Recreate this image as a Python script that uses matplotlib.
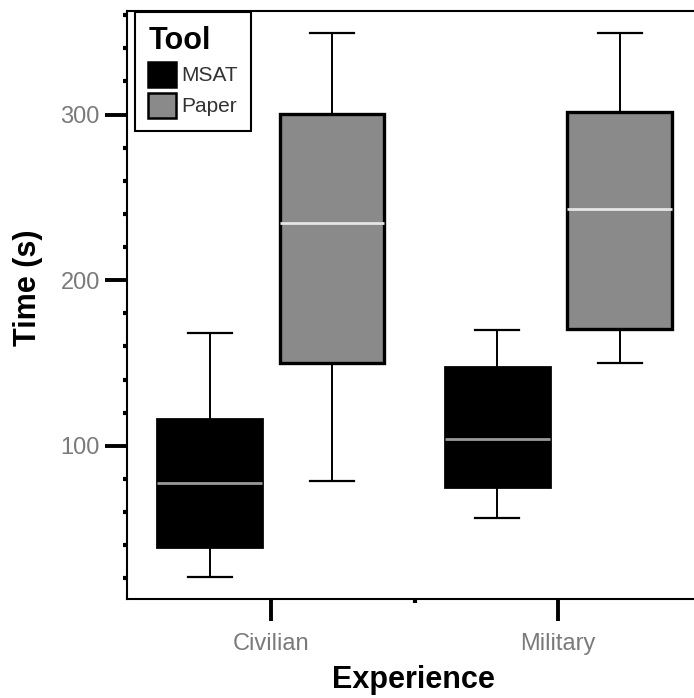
import matplotlib
matplotlib.use("Agg")
import matplotlib.pyplot as plt
from matplotlib.patches import Patch

plt.rcParams['font.family'] = ['Liberation Sans', 'DejaVu Sans']

# box plot summary values (seconds)
categories = ['Civilian', 'Military']
tools = ['MSAT', 'Paper']
whislo = {'MSAT': [20.5, 56.5], 'Paper': [79, 149.7]}
q1 = {'MSAT': [38.7, 75], 'Paper': [149.7, 170.6]}
med = {'MSAT': [77.3, 104], 'Paper': [234.4, 242.7]}
q3 = {'MSAT': [116, 147.7], 'Paper': [300.4, 301.6]}
whishi = {'MSAT': [168, 170.2], 'Paper': [349, 349]}

yticks = [100, 200, 300]

face = {'MSAT': 'black', 'Paper': '#8a8a8a'}
median_col = {'MSAT': '#9a9a9a', 'Paper': '#e6e6e6'}
edge_w = {'MSAT': 2.0, 'Paper': 2.4}
offset = {'MSAT': -0.213, 'Paper': 0.213}

fig = plt.figure(figsize=(6.94, 6.98), dpi=100)
ax = fig.add_axes([127/694, 1 - 599/698, 567/694, 588/698])

for tool in tools:
    stats = []
    for i in range(len(categories)):
        stats.append(dict(whislo=whislo[tool][i], q1=q1[tool][i], med=med[tool][i],
                          q3=q3[tool][i], whishi=whishi[tool][i], fliers=[]))
    pos = [i + offset[tool] for i in range(len(categories))]
    ax.bxp(stats, positions=pos, widths=0.365, patch_artist=True, showfliers=False,
           boxprops=dict(facecolor=face[tool], edgecolor='black', linewidth=edge_w[tool]),
           medianprops=dict(color=median_col[tool], linewidth=2),
           whiskerprops=dict(color='black', linewidth=1.4),
           capprops=dict(color='black', linewidth=1.6),
           capwidths=0.153, manage_ticks=False)

ax.set_xlim(-0.5, 1.472)
ax.set_ylim(7.5, 362.5)

ax.set_xticks(range(len(categories)))
ax.set_xticklabels(categories)
ax.set_xticks([0.5], minor=True)
ax.set_yticks(yticks)
ax.set_yticks([y for y in range(20, 361, 20) if y not in yticks], minor=True)

ax.tick_params(which='major', length=15.5, width=2.8, color='black',
               labelsize=17, labelcolor='#7a7a7a', pad=4)
ax.tick_params(axis='x', which='major', pad=9)
ax.tick_params(which='minor', length=3, width=3, color='black')

for s in ['left', 'bottom', 'top']:
    ax.spines[s].set_linewidth(1.5)
ax.spines['right'].set_visible(False)

ax.set_ylabel('Time (s)', fontsize=22, fontweight='bold')
ax.yaxis.set_label_coords(-0.148, 0.529)
ax.set_xlabel('Experience', fontsize=22, fontweight='bold')
ax.xaxis.set_label_coords(0.506, -0.113)

handles = [Patch(facecolor=face[t], edgecolor='black', linewidth=1.8, label=t) for t in tools]
leg = ax.legend(handles=handles, title='Tool', loc='upper left',
                bbox_to_anchor=(0.014, 0.998), borderaxespad=0, fancybox=False,
                edgecolor='black', framealpha=1, fontsize=15,
                title_fontproperties=dict(weight='bold', size=22),
                handlelength=1.3, handleheight=1.45, handletextpad=0.25,
                labelspacing=0.3, borderpad=0.65)
leg.get_frame().set_linewidth(1.5)
leg._legend_box.align = 'left'
for t in leg.get_texts():
    t.set_color('#333333')

fig.savefig('out.png', dpi=100)
